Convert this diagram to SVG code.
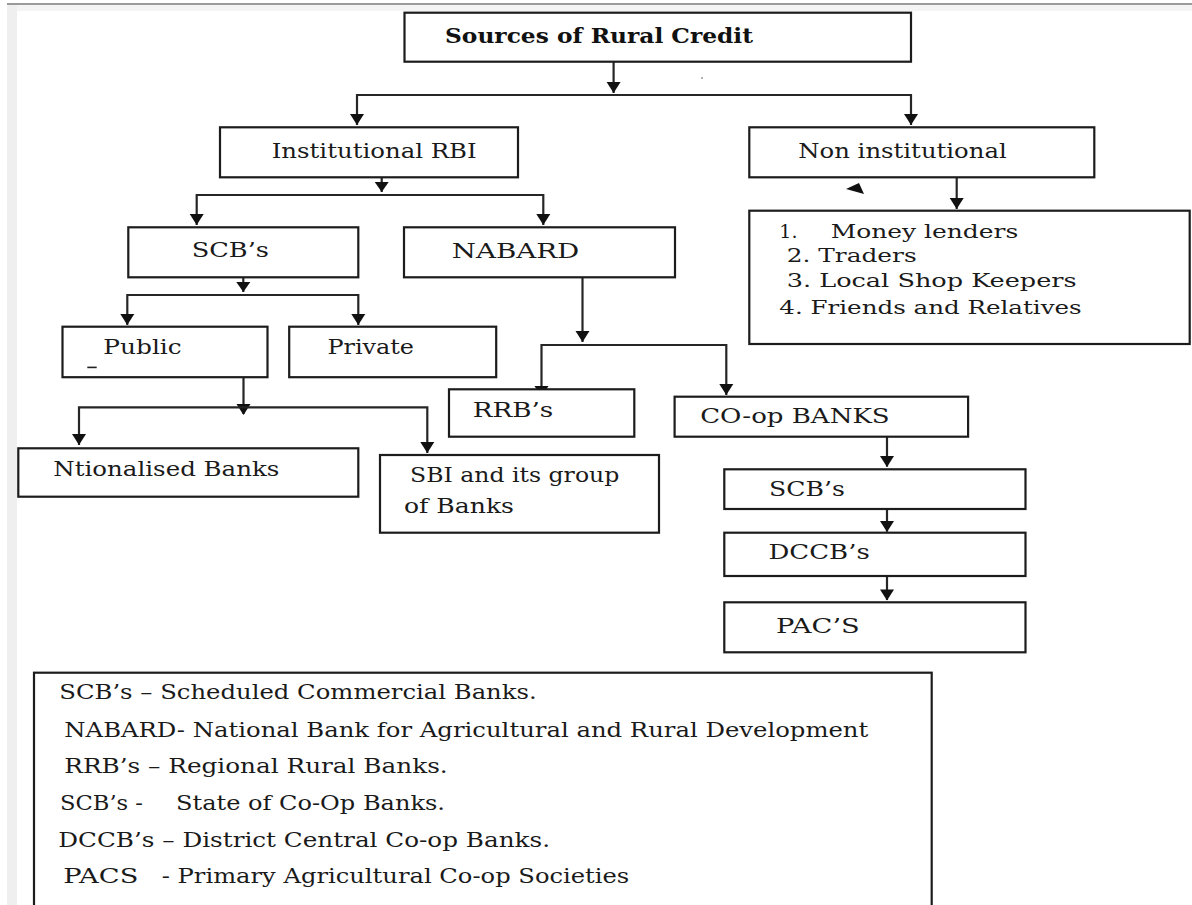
<svg xmlns="http://www.w3.org/2000/svg" width="1192" height="905" viewBox="0 0 1192 905">
<defs>
<style>
.box{fill:#fff;stroke:#1c1c1c;stroke-width:2.2}
.ln{fill:none;stroke:#262626;stroke-width:2.2}
.ah{fill:#111}
.t{font-family:"DejaVu Serif","Liberation Serif",serif;font-size:21px;fill:#1a1a1a}
.tl{font-family:"DejaVu Serif","Liberation Serif",serif;font-size:19px;fill:#1a1a1a}
.tg{font-family:"DejaVu Serif","Liberation Serif",serif;font-size:20px;fill:#1a1a1a}
.tb{font-family:"DejaVu Serif","Liberation Serif",serif;font-size:21px;font-weight:bold;fill:#111}
</style>
</defs>
<rect width="1192" height="905" fill="#fff"/>
<g id="page-edge">
<rect x="7" y="4" width="1185" height="7" fill="#f4f4f4"/>
<rect x="7" y="4" width="10" height="901" fill="#efefef"/>
<line x1="7" y1="4" x2="1192" y2="4" stroke="#9a9a9a" stroke-width="2"/>
<circle cx="702" cy="78" r="1" fill="#999"/>
</g>
<g id="connectors">
<path class="ln" d="M613.6,62 V93"/>
<polygon class="ah" points="606.6,82 620.6,82 613.6,93"/>
<path class="ln" d="M357,125 V95 H911 V125"/>
<polygon class="ah" points="350,114 364,114 357,125"/>
<polygon class="ah" points="904,114 918,114 911,125"/>
<path class="ln" d="M381.7,177 V192"/>
<polygon class="ah" points="374.7,182 388.7,182 381.7,192"/>
<path class="ln" d="M196.7,225 V195 H543.3 V225"/>
<polygon class="ah" points="189.7,214 203.7,214 196.7,225"/>
<polygon class="ah" points="536.3,214 550.3,214 543.3,225"/>
<path class="ln" d="M956.7,177 V209"/>
<polygon class="ah" points="949.7,198 963.7,198 956.7,209"/>
<polygon class="ah" points="846,189 859,183 864,194"/>
<path class="ln" d="M243.3,277 V292"/>
<polygon class="ah" points="236.3,282 250.3,282 243.3,292"/>
<path class="ln" d="M127.3,325 V295 H358.3 V325"/>
<polygon class="ah" points="120.3,314 134.3,314 127.3,325"/>
<polygon class="ah" points="351.3,314 365.3,314 358.3,325"/>
<path class="ln" d="M582.5,277 V342"/>
<polygon class="ah" points="575.5,331 589.5,331 582.5,342"/>
<path class="ln" d="M541.5,397 V345 H726.3 V395"/>
<polygon class="ah" points="534.5,386 548.5,386 541.5,397"/>
<polygon class="ah" points="719.3,384 733.3,384 726.3,395"/>
<path class="ln" d="M243.5,377 V414"/>
<polygon class="ah" points="236.5,404 250.5,404 243.5,415"/>
<path class="ln" d="M79,445 V407.3 H427.3 V453"/>
<polygon class="ah" points="72,434 86,434 79,445"/>
<polygon class="ah" points="420.3,442 434.3,442 427.3,453"/>
<path class="ln" d="M887,437 V466.7"/>
<polygon class="ah" points="880,456 894,456 887,467"/>
<path class="ln" d="M887,509 V531.7"/>
<polygon class="ah" points="880,521 894,521 887,532"/>
<path class="ln" d="M887,576 V600"/>
<polygon class="ah" points="880,589.5 894,589.5 887,600.5"/>
</g>
<g id="sources">
<rect class="box" x="404.5" y="12.7" width="506.5" height="49"/>
<text class="tb" x="445" y="43" textLength="308" lengthAdjust="spacingAndGlyphs">Sources of Rural Credit</text>
</g>
<g id="institutional">
<rect class="box" x="220" y="127.3" width="298" height="50"/>
<text class="t" x="271.7" y="158.3" textLength="205" lengthAdjust="spacingAndGlyphs">Institutional RBI</text>
</g>
<g id="non-institutional">
<rect class="box" x="749.3" y="127.3" width="345" height="50"/>
<text class="t" x="798.3" y="158.3" textLength="208.4" lengthAdjust="spacingAndGlyphs">Non institutional</text>
</g>
<g id="non-institutional-list">
<rect class="box" x="749.3" y="210.7" width="440.4" height="133.3"/>
<text class="tl" x="779.3" y="238.3">1.</text>
<text class="tl" x="830.7" y="238.3" textLength="187.6" lengthAdjust="spacingAndGlyphs">Money lenders</text>
<text class="tl" x="786.7" y="261.7" textLength="130" lengthAdjust="spacingAndGlyphs">2. Traders</text>
<text class="tl" x="786.7" y="286.7" textLength="290" lengthAdjust="spacingAndGlyphs">3. Local Shop Keepers</text>
<text class="tl" x="779.3" y="314.3" textLength="302.4" lengthAdjust="spacingAndGlyphs">4. Friends and Relatives</text>
</g>
<g id="scbs">
<rect class="box" x="128.3" y="227.3" width="230" height="50"/>
<text class="t" x="191.7" y="257.3" textLength="77.3" lengthAdjust="spacingAndGlyphs">SCB’s</text>
</g>
<g id="nabard">
<rect class="box" x="404" y="227.3" width="271" height="50"/>
<text class="t" x="451.7" y="258.3" textLength="127.6" lengthAdjust="spacingAndGlyphs">NABARD</text>
</g>
<g id="public">
<rect class="box" x="62.5" y="326.7" width="205" height="50.5"/>
<text class="t" x="103.3" y="354" textLength="78.4" lengthAdjust="spacingAndGlyphs">Public</text>
<rect x="87.3" y="366.6" width="9.4" height="1.6" fill="#222"/>
</g>
<g id="private">
<rect class="box" x="289.2" y="326.7" width="207" height="50.5"/>
<text class="t" x="327.4" y="353.7" textLength="86.6" lengthAdjust="spacingAndGlyphs">Private</text>
</g>
<g id="rrbs">
<rect class="box" x="449" y="389.3" width="185.3" height="47.4"/>
<text class="t" x="472.7" y="416.7" textLength="80.6" lengthAdjust="spacingAndGlyphs">RRB’s</text>
</g>
<g id="coop-banks">
<rect class="box" x="674.6" y="396.7" width="293.5" height="40"/>
<text class="t" x="700.2" y="423.3" textLength="189.5" lengthAdjust="spacingAndGlyphs">CO-op BANKS</text>
</g>
<g id="nationalised">
<rect class="box" x="18.3" y="448.3" width="340" height="48.4"/>
<text class="t" x="53.3" y="475.7" textLength="226" lengthAdjust="spacingAndGlyphs">Ntionalised Banks</text>
</g>
<g id="sbi">
<rect class="box" x="380" y="455" width="279" height="77.7"/>
<text class="t" x="410" y="482.3" textLength="209.3" lengthAdjust="spacingAndGlyphs">SBI and its group</text>
<text class="t" x="404" y="513.3" textLength="110" lengthAdjust="spacingAndGlyphs">of Banks</text>
</g>
<g id="scbs-state">
<rect class="box" x="724.3" y="469.3" width="301.2" height="39.7"/>
<text class="t" x="769.1" y="496" textLength="75.8" lengthAdjust="spacingAndGlyphs">SCB’s</text>
</g>
<g id="dccbs">
<rect class="box" x="724.3" y="532.7" width="301.2" height="43.3"/>
<text class="t" x="768.4" y="559.3" textLength="101.4" lengthAdjust="spacingAndGlyphs">DCCB’s</text>
</g>
<g id="pacs">
<rect class="box" x="724.3" y="602.3" width="301.2" height="50"/>
<text class="t" x="776" y="632.7" textLength="83.8" lengthAdjust="spacingAndGlyphs">PAC’S</text>
</g>
<g id="legend">
<rect class="box" x="34" y="672.7" width="897.7" height="245"/>
<text class="tg" x="59.3" y="699.3" textLength="477.4" lengthAdjust="spacingAndGlyphs">SCB’s – Scheduled Commercial Banks.</text>
<text class="tg" x="64.3" y="736.7" textLength="804" lengthAdjust="spacingAndGlyphs">NABARD- National Bank for Agricultural and Rural Development</text>
<text class="tg" x="64.3" y="773.3" textLength="383.4" lengthAdjust="spacingAndGlyphs">RRB’s – Regional Rural Banks.</text>
<text class="tg" x="60" y="810" textLength="83" lengthAdjust="spacingAndGlyphs">SCB’s -</text>
<text class="tg" x="176" y="810" textLength="269" lengthAdjust="spacingAndGlyphs">State of Co-Op Banks.</text>
<text class="tg" x="58.3" y="846.7" textLength="491.7" lengthAdjust="spacingAndGlyphs">DCCB’s – District Central Co-op Banks.</text>
<text class="tg" x="63.3" y="883.3" textLength="75" lengthAdjust="spacingAndGlyphs">PACS</text>
<text class="tg" x="161.7" y="883.3" textLength="467.6" lengthAdjust="spacingAndGlyphs">- Primary Agricultural Co-op Societies</text>
</g>
</svg>
